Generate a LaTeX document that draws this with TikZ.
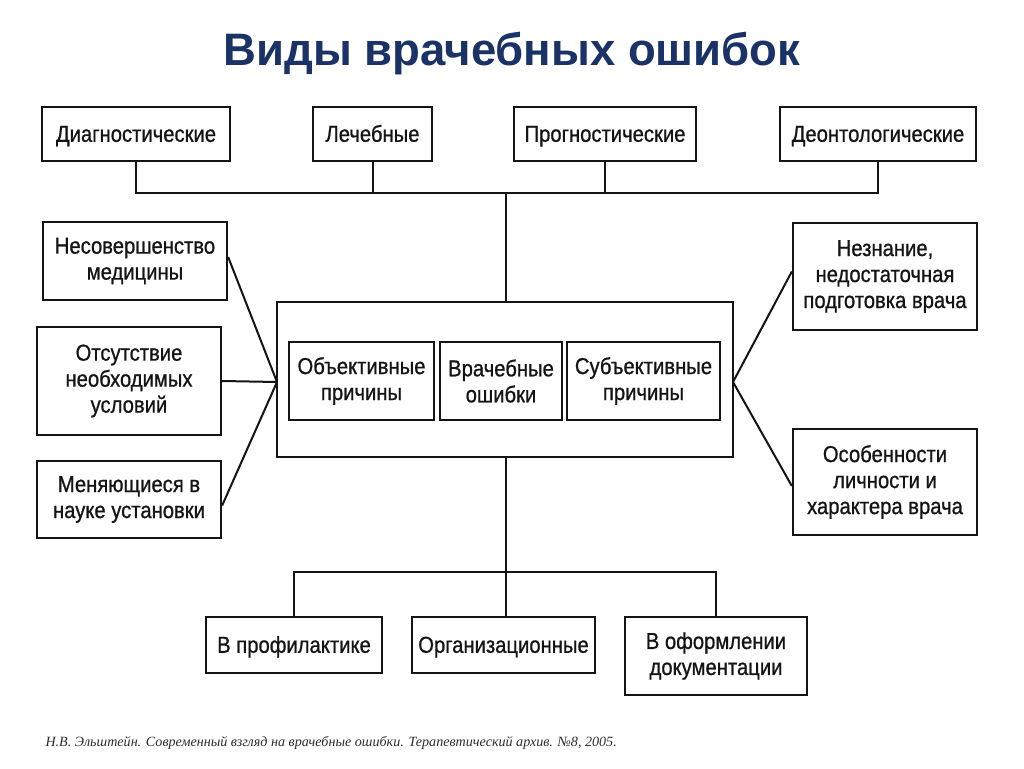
\documentclass[tikz,border=0pt]{standalone}
\usepackage{fontspec}
\setmainfont{Liberation Sans}
\newfontfamily\boxfont[FakeStretch=0.88,FakeBold=0.8]{Liberation Sans}
\newfontfamily\notefont{Liberation Serif}
\usetikzlibrary{calc}
\definecolor{titleblue}{RGB}{27,50,102}
\definecolor{ink}{RGB}{20,20,20}
\definecolor{noteink}{RGB}{45,45,45}
\begin{document}
\begin{tikzpicture}[x=1pt,y=-1pt,
  box/.style={draw=ink, line width=2.3pt, inner sep=0pt, align=center,
    font=\boxfont\fontsize{23}{26}\selectfont, text=ink},
  oneline/.style={text height=20pt, text depth=4.5pt},
  link/.style={draw=ink, line width=2pt},
]
\useasboundingbox (0,0) rectangle (1024,768);
\fill[white] (0,0) rectangle (1024,768);

% title
\node[anchor=base, font=\bfseries\fontsize{45.5}{50}\selectfont, text=titleblue] (title) at (512,65) {Виды врачебных ошибок};

% top row
\node[box, oneline, minimum width=188pt, minimum height=54pt] (diag)  at (136,134) {Диагностические};
\node[box, oneline, minimum width=119pt, minimum height=54pt] (lech)  at (372.5,134) {Лечебные};
\node[box, oneline, minimum width=182pt, minimum height=54pt] (progn) at (605,134) {Прогностические};
\node[box, oneline, minimum width=196pt, minimum height=54pt] (deont) at (878,134) {Деонтологические};

% central block
\node[box, minimum width=456pt, minimum height=155pt] (big) at (505,379.5) {};
\node[box, minimum width=145pt, minimum height=78pt] (obj)   at (361.5,381) {Объективные\\причины};
\node[box, minimum width=122pt, minimum height=78pt] (vrach) at (501,381) {Врачебные\\ошибки};
\node[box, minimum width=153pt, minimum height=78pt] (subj)  at (643.5,381) {Субъективные\\причины};

% left column
\node[box, minimum width=184pt, minimum height=78pt]  (nesov) at (135,261) {Несовершенство\\медицины};
\node[box, minimum width=184pt, minimum height=108pt] (otsut) at (129,381) {Отсутствие\\необходимых\\условий};
\node[box, minimum width=184pt, minimum height=77pt]  (menya) at (129,499.5) {Меняющиеся в\\науке установки};

% right column
\node[box, minimum width=184pt, minimum height=107pt] (nezn) at (885,276.5) {Незнание,\\недостаточная\\подготовка врача};
\node[box, minimum width=184pt, minimum height=106pt] (osob) at (885,482) {Особенности\\личности и\\характера врача};

% bottom row
\node[box, oneline, minimum width=176pt, minimum height=56pt] (prof)  at (294,645) {В профилактике};
\node[box, oneline, minimum width=183pt, minimum height=56pt] (org)   at (503.5,645) {Организационные};
\node[box, minimum width=182pt, minimum height=78pt] (oform) at (716,656) {В оформлении\\документации};

% connectors
\coordinate (tbus) at (506,193);
\coordinate (bbus) at (506,572);
\coordinate (cl) at (277,382);
\coordinate (cr) at (733,382);

\draw[link] (diag.south) |- (tbus) -| (deont.south);
\draw[link] (lech.south) -- (lech.south |- tbus);
\draw[link] (progn.south) -- (progn.south |- tbus);
\draw[link] (tbus) -- (tbus |- big.north);

\draw[link] (tbus |- big.south) -- (tbus |- org.north);
\draw[link] (prof.north) |- (bbus) -| (oform.north);

\draw[link] ([yshift=4pt]nesov.east) -- (cl);
\draw[link] (otsut.east) -- (cl);
\draw[link] ([yshift=-6pt]menya.east) -- (cl);
\draw[link] ([yshift=5pt]nezn.west) -- (cr);
\draw[link] ([yshift=-4pt]osob.west) -- (cr);

% source note
\node[anchor=base west, font=\notefont\itshape\fontsize{14.1}{16}\selectfont, text=noteink] (note) at (42,746)
  {Н.В. Эльштейн. Современный взгляд на врачебные ошибки. Терапевтический архив. №8, 2005.};
\end{tikzpicture}
\end{document}
